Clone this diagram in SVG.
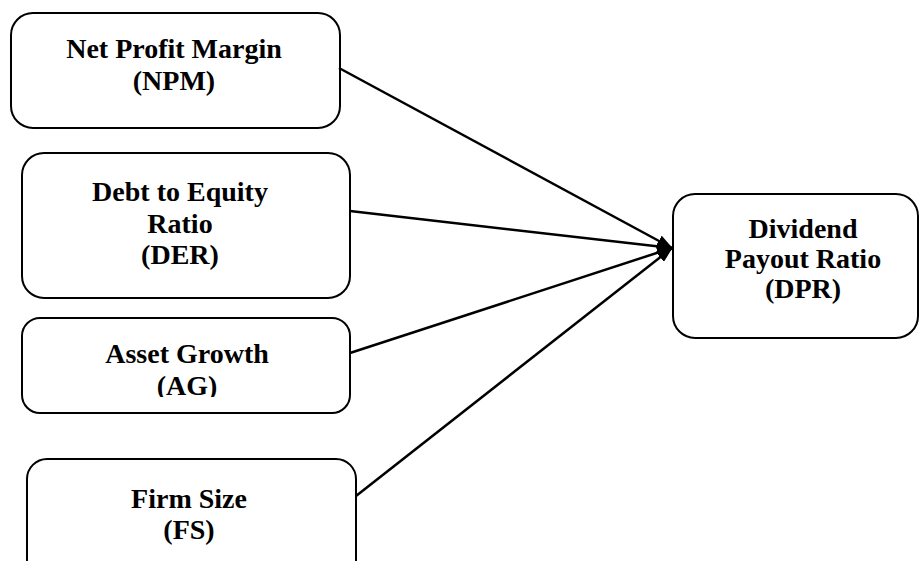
<svg xmlns="http://www.w3.org/2000/svg" width="919" height="561" viewBox="0 0 919 561">
<style>
.box{fill:#fff;stroke:#000;stroke-width:2}
.t{font-family:"Liberation Serif","Times New Roman",serif;font-weight:bold;font-size:28px;text-anchor:middle;fill:#000}
.c{stroke:#000;stroke-width:2.5;fill:none;marker-end:url(#ah)}
</style>
<defs>
<marker id="ah" markerUnits="userSpaceOnUse" markerWidth="16" markerHeight="12" refX="15" refY="6" orient="auto">
<path d="M0,0 L16,6 L0,12 z" fill="#000"/>
</marker>
<clipPath id="agclip"><rect x="0" y="300" width="400" height="97"/></clipPath>
</defs>
<rect width="919" height="561" fill="#fff"/>
<g id="npm">
<rect class="box" x="11" y="13" width="329" height="115" rx="22"/>
<text class="t" x="174" y="58">Net Profit Margin</text>
<text class="t" x="174" y="90">(NPM)</text>
</g>
<g id="der">
<rect class="box" x="22" y="153" width="328" height="145" rx="22"/>
<text class="t" x="180" y="201">Debt to Equity</text>
<text class="t" x="180" y="233">Ratio</text>
<text class="t" x="180" y="264">(DER)</text>
</g>
<g id="ag">
<rect class="box" x="22" y="318" width="328" height="95" rx="18"/>
<g clip-path="url(#agclip)">
<text class="t" x="187" y="363">Asset Growth</text>
<text class="t" x="187" y="395">(AG)</text>
</g>
</g>
<g id="fs">
<rect class="box" x="27" y="459" width="329" height="130" rx="20"/>
<text class="t" x="189" y="508">Firm Size</text>
<text class="t" x="189" y="539">(FS)</text>
</g>
<g id="dpr">
<rect class="box" x="673" y="194" width="245" height="144" rx="22"/>
<text class="t" x="803" y="238">Dividend</text>
<text class="t" x="803" y="268">Payout Ratio</text>
<text class="t" x="803" y="298">(DPR)</text>
</g>
<g id="connectors">
<line class="c" x1="339" y1="68" x2="672" y2="248"/>
<line class="c" x1="350" y1="211" x2="672" y2="248"/>
<line class="c" x1="350" y1="353" x2="672" y2="248"/>
<line class="c" x1="356" y1="496" x2="672" y2="248"/>
</g>
</svg>
